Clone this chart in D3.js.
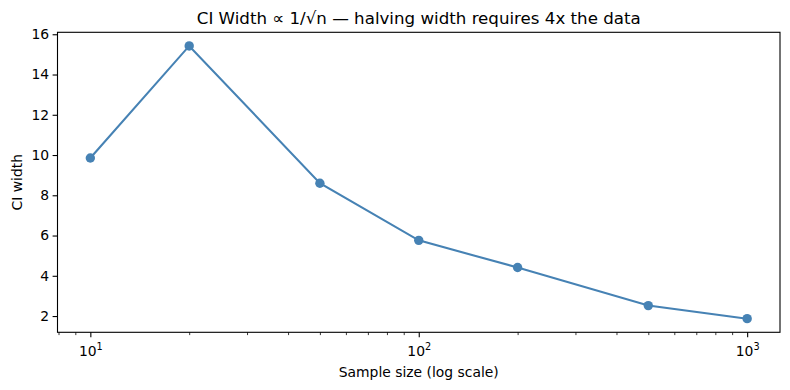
<!DOCTYPE html>
<html><head><meta charset="utf-8">
<script src="https://cdn.jsdelivr.net/npm/d3@7"></script>
<style>body{margin:0;background:#fff}svg{display:block}text{font-family:"DejaVu Sans",sans-serif;fill:#000}</style>
</head><body>
<script>
const sampleSizes = [10, 20, 50, 100, 200, 500, 1000];
const ciWidths = [9.85, 15.42, 8.60, 5.76, 4.41, 2.52, 1.87];
const yTicks = [2, 4, 6, 8, 10, 12, 14, 16];
const xMajorTicks = [10, 100, 1000];
const xMinorTicks = [8, 9, 20, 30, 40, 50, 60, 70, 80, 90, 200, 300, 400, 500, 600, 700, 800, 900];
const titleText = "CI Width \u221d 1/\u221an \u2014 halving width requires 4x the data";

const W = 790, H = 390;
const m = {l: 57.5, r: 780, t: 32.3, b: 332.3};
const svg = d3.select("body").append("svg").attr("width", W).attr("height", H);

const x = d3.scaleLog().domain([Math.pow(10, 0.9), Math.pow(10, 3.1)]).range([m.l, m.r]);
const yMin = d3.min(ciWidths), yMax = d3.max(ciWidths), pad = (yMax - yMin) * 0.05;
const y = d3.scaleLinear().domain([yMin - pad, yMax + pad]).range([m.b, m.t]);

// y axis
const yAxis = svg.append("g").attr("transform", `translate(${m.l},0)`)
  .call(d3.axisLeft(y).tickValues(yTicks).tickSize(4.9).tickPadding(3.5).tickFormat(d3.format("d")));
yAxis.select(".domain").remove();
yAxis.selectAll("text").attr("font-size", 13.9).attr("font-family", "DejaVu Sans");
yAxis.selectAll("line").attr("stroke-width", 1.1);

// x axis major
const xAxis = svg.append("g").attr("transform", `translate(0,${m.b})`)
  .call(d3.axisBottom(x).tickValues(xMajorTicks).tickSize(4.9).tickPadding(4).tickFormat(() => ""));
xAxis.select(".domain").remove();
xAxis.selectAll("line").attr("stroke-width", 1.1);
xAxis.selectAll(".tick text").each(function(d) {
  const t = d3.select(this).attr("font-size", 13.9).attr("font-family", "DejaVu Sans")
    .attr("y", 23.5).attr("dy", null);
  t.append("tspan").text("10");
  t.append("tspan").attr("font-size", 9.7).attr("dy", "-0.55em").text(String(Math.round(Math.log10(d))));
});
// x minor
const xMinor = svg.append("g").attr("transform", `translate(0,${m.b})`)
  .call(d3.axisBottom(x).tickValues(xMinorTicks).tickSize(2.8).tickFormat(() => ""));
xMinor.select(".domain").remove();
xMinor.selectAll("line").attr("stroke-width", 0.8);

// frame
svg.append("rect").attr("x", m.l).attr("y", m.t).attr("width", m.r - m.l).attr("height", m.b - m.t)
  .attr("fill", "none").attr("stroke", "#000").attr("stroke-width", 1.1);

// line
const pts = sampleSizes.map((n, i) => [n, ciWidths[i]]);
svg.append("path").datum(pts)
  .attr("d", d3.line().x(d => x(d[0])).y(d => y(d[1])))
  .attr("fill", "none").attr("stroke", "#4682b4").attr("stroke-width", 2.08);
svg.selectAll("circle.pt").data(pts).enter().append("circle").attr("class", "pt")
  .attr("cx", d => x(d[0])).attr("cy", d => y(d[1])).attr("r", 4.7).attr("fill", "#4682b4");

// labels
svg.append("text").attr("x", (m.l + m.r) / 2).attr("y", 24).attr("text-anchor", "middle")
  .attr("font-size", 16.67).text(titleText);
svg.append("text").attr("x", (m.l + m.r) / 2).attr("y", 377).attr("text-anchor", "middle")
  .attr("font-size", 13.9).text("Sample size (log scale)");
svg.append("text").attr("transform", `translate(22,${(m.t + m.b) / 2}) rotate(-90)`).attr("text-anchor", "middle")
  .attr("font-size", 13.9).text("CI width");
</script>
</body></html>
